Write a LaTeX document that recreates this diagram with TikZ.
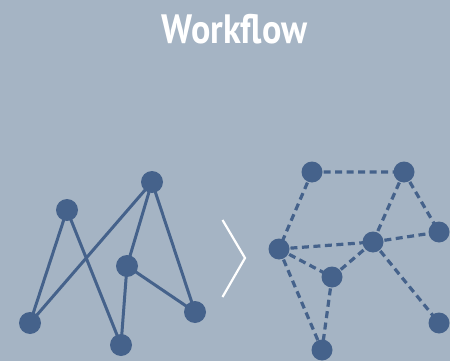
\documentclass[tikz,border=0pt]{standalone}
\usepackage{fontspec}
\setmainfont{PT Sans}
\definecolor{bg}{HTML}{A5B4C4}
\definecolor{nd}{HTML}{45628B}
\begin{document}
\begin{tikzpicture}[x=1pt,y=-1pt,
  dot/.style={circle,fill=nd,inner sep=0pt,minimum size=22pt},
  solidedge/.style={draw=nd,line width=3pt},
  dashedge/.style={draw=nd,line width=3.2pt,dash pattern=on 7pt off 4.5pt}]
\fill[bg] (0,0) rectangle (450,361);
\useasboundingbox (0,0) rectangle (450,361);
\node[text=white,font=\fontsize{41}{41}\selectfont\bfseries,xscale=0.88,transform shape,anchor=base,inner sep=0pt] (title) at (234.5,43.3) {Workflow};
% left graph
\coordinate (A) at (67,210);
\coordinate (B) at (152,182);
\coordinate (C) at (127,266);
\coordinate (D) at (30,323);
\coordinate (E) at (121,345);
\coordinate (F) at (195,312);
\draw[solidedge] (D)--(A) (A)--(E) (D)--(B) (B)--(C) (B)--(F) (C)--(E) (C)--(F);
\foreach \n in {A,B,C,D,E,F} \node[dot] at (\n) {};
% chevron
\coordinate (c1) at (222.5,220);
\coordinate (c2) at (245,258);
\coordinate (c3) at (222.5,297);
\draw[white,line width=2.2pt] (c1)--(c2)--(c3);
% right graph
\coordinate (G) at (312,172);
\coordinate (H) at (404,172);
\coordinate (I) at (439,232);
\coordinate (J) at (279,249);
\coordinate (K) at (373,242);
\coordinate (L) at (332,277);
\coordinate (M) at (322,350);
\coordinate (N) at (439,323);
\draw[dashedge] (G)--(H) (G)--(J) (H)--(K) (H)--(I) (J)--(K) (K)--(I) (J)--(L) (L)--(K) (J)--(M) (L)--(M) (K)--(N);
\foreach \n in {G,H,I,J,K,L,M,N} \node[dot,minimum size=21pt] at (\n) {};
\end{tikzpicture}
\end{document}
